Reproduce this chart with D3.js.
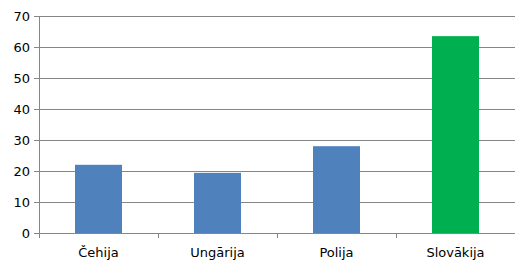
<!DOCTYPE html>
<html>
<head>
<meta charset="utf-8">
<script src="https://cdn.jsdelivr.net/npm/d3@7"></script>
<style>
  body { margin: 0; background: #fff; }
  text { font-family: Tahoma, "DejaVu Sans", sans-serif; font-size: 13px; fill: #000; }
</style>
</head>
<body>
<svg id="drawing_region"></svg>
<script>
const categories = ['Čehija', 'Ungārija', 'Polija', 'Slovākija'];
const values = [22, 19.4, 28, 63.5];
const barColors = ['#4f81bd', '#4f81bd', '#4f81bd', '#00b050'];
const yTicks = [0, 10, 20, 30, 40, 50, 60, 70];

const width = 518, height = 269;
const margin = {top: 16, right: 3, bottom: 36, left: 39};
const barWidth = 47;

const svg = d3.select('#drawing_region')
    .attr('width', width)
    .attr('height', height);

const x = d3.scaleBand()
    .domain(categories)
    .range([margin.left, width - margin.right]);

const y = d3.scaleLinear()
    .domain([0, 70])
    .range([height - margin.bottom, margin.top]);

// gridlines + y ticks
svg.append('g')
    .selectAll('line')
    .data(yTicks)
    .join('line')
    .attr('x1', margin.left - 5)
    .attr('x2', width - margin.right)
    .attr('y1', d => Math.round(y(d)) + 0.5)
    .attr('y2', d => Math.round(y(d)) + 0.5)
    .attr('stroke', '#868686');

// bars
svg.append('g')
    .selectAll('rect')
    .data(values)
    .join('rect')
    .attr('x', (d, i) => x(categories[i]) + (x.bandwidth() - barWidth) / 2)
    .attr('width', barWidth)
    .attr('y', d => y(d))
    .attr('height', d => y(0) - y(d))
    .attr('fill', (d, i) => barColors[i]);

// y axis line
svg.append('line')
    .attr('x1', margin.left + 0.5).attr('x2', margin.left + 0.5)
    .attr('y1', margin.top).attr('y2', y(0) + 5)
    .attr('stroke', '#868686');

// x axis line
svg.append('line')
    .attr('x1', margin.left - 5).attr('x2', width - margin.right)
    .attr('y1', Math.round(y(0)) + 0.5).attr('y2', Math.round(y(0)) + 0.5)
    .attr('stroke', '#868686');

// category ticks
svg.append('g')
    .selectAll('line')
    .data(categories.slice(1))
    .join('line')
    .attr('x1', d => Math.round(x(d)) + 0.5)
    .attr('x2', d => Math.round(x(d)) + 0.5)
    .attr('y1', y(0))
    .attr('y2', y(0) + 5)
    .attr('stroke', '#868686');

// y tick labels
svg.append('g')
    .selectAll('text')
    .data(yTicks)
    .join('text')
    .attr('x', 30)
    .attr('y', d => y(d) + 5)
    .attr('text-anchor', 'end')
    .text(d => d);

// category labels
svg.append('g')
    .selectAll('text')
    .data(categories)
    .join('text')
    .attr('x', d => x(d) + x.bandwidth() / 2)
    .attr('y', 257)
    .attr('text-anchor', 'middle')
    .text(d => d);
</script>
</body>
</html>
